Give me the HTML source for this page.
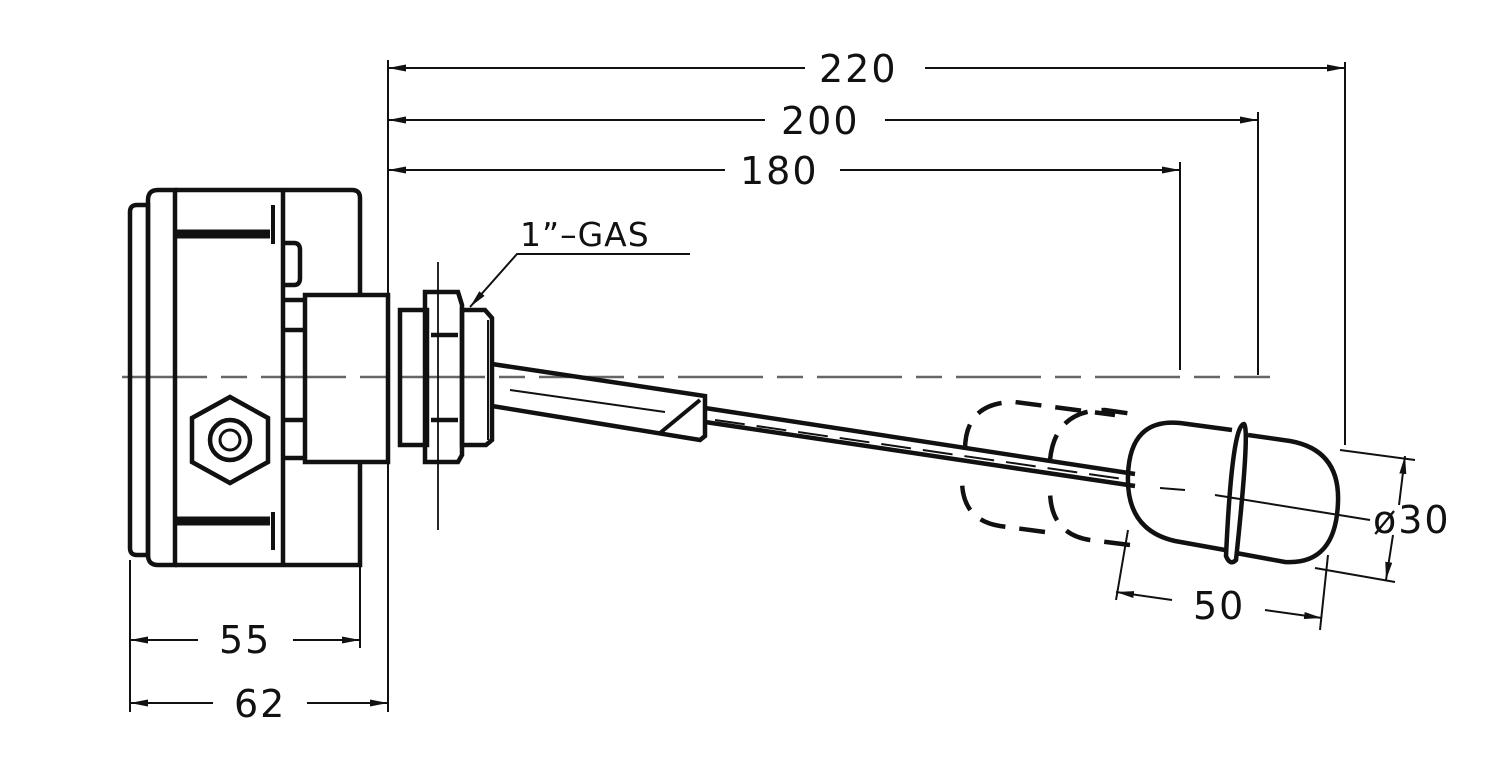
<!DOCTYPE html>
<html><head><meta charset="utf-8"><style>
html,body{margin:0;padding:0;background:#fff;}
svg{display:block;}
text{font-family:"DejaVu Sans","Liberation Sans",sans-serif;font-size:38px;fill:#111;letter-spacing:2px;}
</style></head><body>
<svg width="1500" height="776" viewBox="0 0 1500 776" xmlns="http://www.w3.org/2000/svg">
<defs>
<marker id="a" markerWidth="18" markerHeight="8" refX="18" refY="4" orient="auto" markerUnits="userSpaceOnUse">
<path d="M0,0.5 L18,4 L0,7.5 Z" fill="#111"/></marker>
<marker id="b" markerWidth="18" markerHeight="8" refX="0" refY="4" orient="auto" markerUnits="userSpaceOnUse">
<path d="M18,0.5 L0,4 L18,7.5 Z" fill="#111"/></marker>
</defs>
<g fill="none" stroke="#111">
<path d="M122,377 H1270" stroke="#666" stroke-width="2.5" stroke-dasharray="85,14,26,14"/>
<g stroke-width="4.5">
<path d="M130,212 Q130,205 137,205 H148 V555 H137 Q130,555 130,548 Z"/>
<path d="M148,200 Q148,190 158,190 H175 V565 H158 Q148,565 148,555 Z"/>
<path d="M175,190 H352 Q360,190 360,198 V295"/>
<path d="M360,462 V565 H175"/>
<path d="M283,190 V565"/>
<path d="M283,243 H294 Q300,243 300,250 V278 Q300,285 294,285 H283"/>
<path d="M283,300 H305 M283,330 H305 M283,420 H305 M283,458 H305"/>
<rect x="305" y="295" width="83" height="167"/>
<polygon points="230,397 268,418 268,462 230,483 192,462 192,418"/>
<circle cx="230" cy="440" r="20"/>
<circle cx="230" cy="440" r="10" stroke-width="3"/>
</g>
<path d="M175,234 H270 M175,521 H270" stroke-width="9"/>
<path d="M273,205 V244 M273,512 V550" stroke-width="4"/>
<g stroke-width="4.5">
<rect x="400" y="310" width="27" height="135"/>
<path d="M425,305 V292 H458 L462,305 V455 L458,462 H425 Z"/>
<path d="M431,335 H458 M431,420 H458"/>
<path d="M462,310 H485 L492,318 V440 L486,445 H462 Z"/>
<path d="M488,320 V440" stroke-width="2"/>
<path d="M492,364 L705,396 V436 L700,440 L492,406"/>
<path d="M660,433 L700,400" stroke-width="4"/>
<path d="M705,408 L1135,474 M705,422 L1135,486"/>
</g>
<path d="M510,390 L665,412" stroke-width="2"/>
<path d="M715,420 L1130,480" stroke-width="2" stroke-dasharray="30,12"/>
<path d="M438,262 V530" stroke-width="1.8"/>
<g stroke-width="4.5" stroke-dasharray="26,14">
<path d="M965,450 Q965,402 1015,402 L1115,415 M1045,532 L1000,526 Q962,520 962,480"/>
<path d="M1050,460 Q1055,410 1105,410 L1140,415 M1130,545 L1090,540 Q1050,534 1050,490"/>
</g>
<g stroke-width="4.5">
<path d="M1232,430 L1180,423 Q1130,418 1128,475 Q1126,530 1175,541 L1225,550"/>
<path d="M1248,435 L1290,441 Q1340,450 1338,502 Q1336,565 1285,562 L1236,553"/>
<path d="M1244,424 Q1250,428 1236,560 Q1230,566 1226,556 Q1232,425 1244,424 Z"/>
</g>
<path d="M1160,488 L1185,490 M1215,495 L1370,520" stroke-width="2"/>
<g stroke-width="2">
<path d="M388,60 V295 M388,462 V712"/>
<path d="M1345,62 V445 M1258,112 V375 M1180,162 V370"/>
<path d="M388,68 H805 M925,68 H1345" marker-start="url(#b)" marker-end="url(#a)"/>
<path d="M388,120 H765 M885,120 H1258" marker-start="url(#b)" marker-end="url(#a)"/>
<path d="M388,170 H725 M840,170 H1180" marker-start="url(#b)" marker-end="url(#a)"/>
<path d="M130,560 V712 M360,565 V648"/>
<path d="M130,640 H198 M293,640 H360" marker-start="url(#b)" marker-end="url(#a)"/>
<path d="M130,703 H213 M307,703 H388" marker-start="url(#b)" marker-end="url(#a)"/>
<path d="M690,254 H517 L470,307" marker-end="url(#a)"/>
<path d="M1340,450 L1415,460 M1315,568 L1395,582"/>
<path d="M1405,456 L1399,505" marker-start="url(#b)"/>
<path d="M1393,535 L1386,580" marker-end="url(#a)"/>
<path d="M1128,530 L1116,600 M1328,555 L1320,630"/>
<path d="M1116,592 L1172,600" marker-start="url(#b)"/>
<path d="M1265,610 L1322,618" marker-end="url(#a)"/>
</g>
</g>
<text x="819" y="82">220</text>
<text x="781" y="134">200</text>
<text x="740" y="184">180</text>
<text x="219" y="653">55</text>
<text x="234" y="717">62</text>
<text x="520" y="246" style="font-size:33px;letter-spacing:1px">1”–GAS</text>
<text x="1373" y="533">ø30</text>
<text x="1193" y="619">50</text>
</svg>
</body></html>
